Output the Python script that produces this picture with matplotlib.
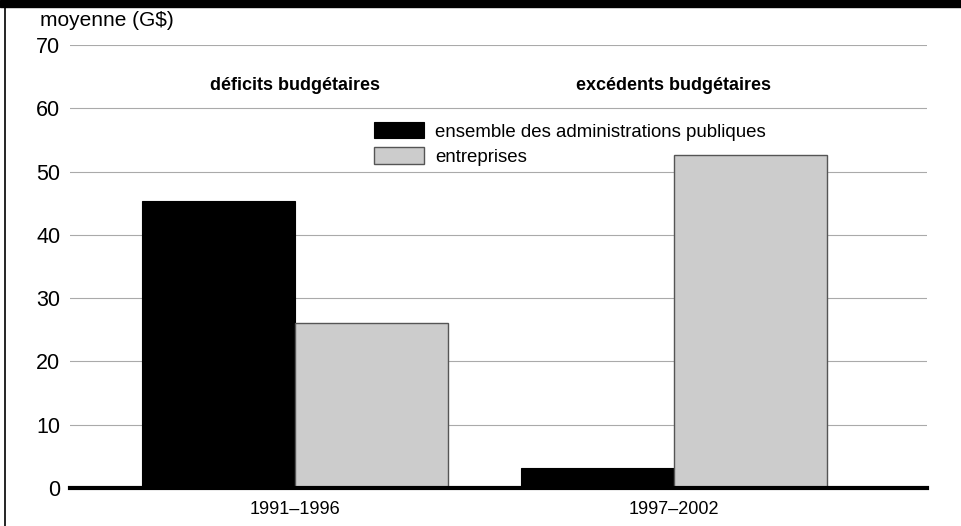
import matplotlib
matplotlib.use("Agg")
import matplotlib.pyplot as plt
import numpy as np
from matplotlib.lines import Line2D
from matplotlib.patches import Rectangle

periods = ["1991\u20131996", "1997\u20132002"]
series_names = ["ensemble des administrations publiques", "entreprises"]
gov_values = [45.3, 3.2]
ent_values = [26.0, 52.6]
y_ticks = [0, 10, 20, 30, 40, 50, 60, 70]
group_titles = ["déficits budgétaires", "excédents budgétaires"]

plt.rcParams['font.family'] = ['Liberation Sans', 'DejaVu Sans']

W, H = 961, 526
fig = plt.figure(figsize=(W/100, H/100), dpi=100)

def fx(px): return px / W
def fy(py): return 1 - py / H

ax = fig.add_axes([fx(70), fy(488), fx(927) - fx(70), fy(45) - fy(488)])

x = np.arange(len(periods))
bw = 0.404
ax.bar(x - bw/2, gov_values, width=bw, color='black', edgecolor='black', linewidth=0.8, zorder=3,
       label=series_names[0])
ax.bar(x + bw/2, ent_values, width=bw, color='#cccccc', edgecolor='#555555', linewidth=1.0, zorder=3,
       label=series_names[1])

ax.set_xlim(-0.594, 1.668)
ax.set_ylim(0, 70)
ax.set_yticks(y_ticks)
ax.set_yticklabels([str(v) for v in y_ticks], fontsize=15.5)
ax.set_xticks(x)
ax.set_xticklabels(periods, fontsize=13)
ax.tick_params(axis='both', length=0)
ax.tick_params(axis='y', pad=7)
ax.tick_params(axis='x', pad=9)
for s in ['top', 'right', 'left']:
    ax.spines[s].set_visible(False)
ax.spines['bottom'].set_linewidth(3)
ax.spines['bottom'].set_zorder(4)
ax.yaxis.grid(True, color='#aaaaaa', linewidth=0.8, zorder=0)
ax.set_axisbelow(True)

for xi, t in zip(x, group_titles):
    ax.text(xi, 63.6, t, ha='center', va='center', fontsize=13, fontweight='bold')

ax.legend(loc='upper left', bbox_to_anchor=((374 - 70) / 857, (488 - 122) / 443),
          frameon=False, fontsize=13.4, handlelength=2.69, handleheight=0.97,
          handletextpad=0.6, labelspacing=0.36, borderaxespad=0, borderpad=0)

fig.text(fx(40), fy(20), "moyenne (G$)", fontsize=15, ha='left', va='center')

# frame: top bar and left line
fig.patches.append(Rectangle((0, fy(7)), 1, 1 - fy(7), transform=fig.transFigure,
                             color='black', zorder=10))
fig.lines.append(Line2D([fx(4.5), fx(4.5)], [0, 1], transform=fig.transFigure,
                        color='black', linewidth=1.2))

fig.savefig("out.png", dpi=100)
